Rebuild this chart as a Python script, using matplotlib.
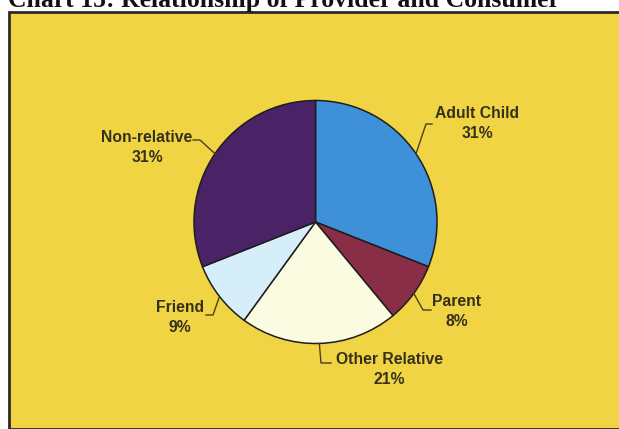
import numpy as np
import matplotlib
matplotlib.use("Agg")
import matplotlib.pyplot as plt
from matplotlib.patches import Rectangle

# ---- data ----
categories = ["Adult Child", "Parent", "Other Relative", "Friend", "Non-relative"]
values = [31, 8, 21, 9, 31]
title = "Chart 15: Relationship of Provider and Consumer"

# ---- style ----
colors = ["#3e90d8", "#8a2d46", "#fbfbe2", "#d6eefa", "#4a2266"]
bg_yellow = "#f0d443"
text_col = "#34301c"

W, H = 619, 429
fig = plt.figure(figsize=(W / 100, H / 100), dpi=100)
fig.patch.set_facecolor("white")
ax = fig.add_axes([0, 0, 1, 1])

def Y(py):
    return H - py

# yellow panel with dark border (top/left visible)
ax.add_patch(Rectangle((9, Y(428.5)), 640, 428.5 - 12, facecolor=bg_yellow,
                       edgecolor="#2a2a2a", linewidth=2.0, zorder=0))

# title (top part clipped by canvas edge, like the reference scan)
fig.text(8 / W, 1 - 6.5 / H, title, family="Liberation Serif", fontweight="bold",
         fontsize=18.5, color="#111111", ha="left", va="baseline")

# pie
cx, cy, r = 315.5, Y(222), 121.5
wedges, _ = ax.pie(values, colors=colors, startangle=90, counterclock=False,
                   center=(cx, cy), radius=r, frame=True,
                   wedgeprops=dict(edgecolor="#1e1e1e", linewidth=1.1))
ax.set_xlim(0, W)
ax.set_ylim(0, H)
ax.set_aspect("equal")
ax.axis("off")

# label layout (pixel coords, top-origin): text center x, first line y, elbow, end of leader
layout = {
    "Adult Child":    dict(tx=477, ty=114, elbow=(426, 124), end=(432, 124)),
    "Parent":         dict(tx=457, ty=302, elbow=(423, 310), end=(431, 310)),
    "Other Relative": dict(tx=389, ty=359, elbow=(321, 363), end=(331, 363)),
    "Friend":         dict(tx=180, ty=307, elbow=(213, 315), end=(206, 315)),
    "Non-relative":   dict(tx=147, ty=138, elbow=(200, 140), end=(193, 140)),
}

for w, cat, v in zip(wedges, categories, values):
    mid = np.deg2rad((w.theta1 + w.theta2) / 2)
    ax_pt = (cx + r * np.cos(mid), cy + r * np.sin(mid))
    L = layout[cat]
    xs = [ax_pt[0], L["elbow"][0], L["end"][0]]
    ys = [ax_pt[1], Y(L["elbow"][1]), Y(L["end"][1])]
    ax.plot(xs, ys, color="#4a4020", linewidth=1.0, zorder=3)
    ax.text(L["tx"], Y(L["ty"]), cat, family="Liberation Sans", fontweight="bold",
            fontsize=11.3, color=text_col, ha="center", va="center")
    ax.text(L["tx"], Y(L["ty"] + 20), f"{v}%", family="Liberation Sans",
            fontweight="bold", fontsize=11.3, color=text_col, ha="center", va="center")

fig.savefig("out.png", dpi=100, facecolor=fig.get_facecolor())
